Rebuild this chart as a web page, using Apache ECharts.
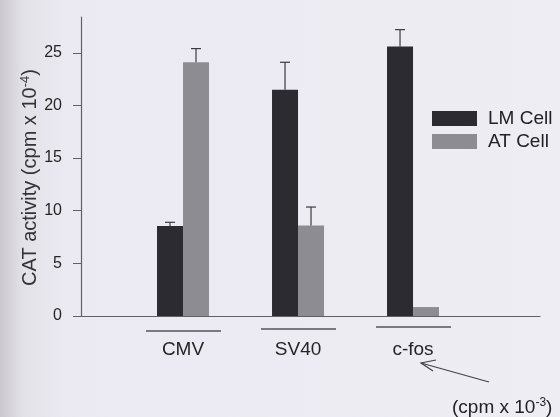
<!DOCTYPE html>
<html>
<head>
<meta charset="utf-8">
<script src="https://cdn.jsdelivr.net/npm/echarts@6/dist/echarts.min.js"></script>
<style>
html,body{margin:0;padding:0;background:#ecebf2;}
#main{width:560px;height:417px;}
</style>
</head>
<body>
<div id="main"></div>
<script>
var categories = ['CMV', 'SV40', 'c-fos'];
var lmValues = [8.55, 21.5, 25.6];
var atValues = [24.1, 8.6, 0.85];
var lmErrors = [0.35, 2.6, 1.6];
var atErrors = [1.3, 1.75, 0];
var yTicks = [0, 5, 10, 15, 20, 25];
var seriesNames = ['LM Cell', 'AT Cell'];

var FONT = '"Liberation Sans", Arial, sans-serif';
var chart = echarts.init(document.getElementById('main'));

function pos(i) { return i + 1; }

function barData(vals) {
  return vals.map(function (v, i) { return [pos(i), v]; });
}
function errData(vals, errs) {
  return vals.map(function (v, i) { return [pos(i), v, v + errs[i]]; });
}
function errRender(offset) {
  return function (params, api) {
    var x = api.value(0), lo = api.value(1), hi = api.value(2);
    if (hi - lo <= 0) return null;
    var p1 = api.coord([x, lo]);
    var p2 = api.coord([x, hi]);
    var cx = p1[0] + offset;
    var st = { stroke: '#3a3a40', lineWidth: 1.2 };
    return {
      type: 'group',
      children: [
        { type: 'line', shape: { x1: cx, y1: p1[1], x2: cx, y2: p2[1] }, style: st },
        { type: 'line', shape: { x1: cx - 5, y1: p2[1], x2: cx + 5, y2: p2[1] }, style: st }
      ]
    };
  };
}

var option = {
  backgroundColor: {
    type: 'linear', x: 0, y: 0, x2: 1, y2: 0,
    colorStops: [
      { offset: 0, color: '#cbc9cf' },
      { offset: 0.04, color: '#e3e1e8' },
      { offset: 0.12, color: '#ebeaf2' },
      { offset: 1, color: '#eeedf4' }
    ]
  },
  animation: false,
  textStyle: { fontFamily: FONT },
  grid: { left: 81, top: 17, right: 20, bottom: 101 },
  legend: {
    orient: 'vertical',
    left: 432, top: 109,
    padding: 0,
    itemWidth: 45, itemHeight: 15, itemGap: 4,
    icon: 'rect',
    data: seriesNames,
    textStyle: { fontSize: 19, color: '#222', fontFamily: FONT, padding: [0, 0, 0, 6] }
  },
  xAxis: {
    type: 'value',
    min: 0.113, max: 4.104,
    splitLine: { show: false },
    axisLine: { show: true, lineStyle: { color: '#606066', width: 1.2 } },
    axisTick: { show: false },
    axisLabel: {
      customValues: [1, 2, 3],
      margin: 24,
      fontSize: 19,
      color: '#252525',
      fontFamily: FONT,
      formatter: function (v) { return categories[Math.round(v) - 1] || ''; }
    }
  },
  yAxis: {
    type: 'value',
    min: 0, max: 28.4,
    splitLine: { show: false },
    axisLine: { show: true, lineStyle: { color: '#606066', width: 1.2 } },
    axisTick: { show: true, length: 8, customValues: yTicks, lineStyle: { color: '#606066' } },
    axisLabel: { customValues: yTicks, fontSize: 16, color: '#252525', margin: 19, fontFamily: FONT },
    name: '{a|CAT activity (cpm x 10}{s|-4}{a|)}',
    nameLocation: 'middle',
    nameGap: 40,
    nameMoveOverlap: false,
    nameTextStyle: {
      padding: [0, 22, 0, 0],
      rich: {
        a: { fontSize: 20, color: '#333', fontFamily: FONT },
        s: { fontSize: 13, color: '#333', fontFamily: FONT, verticalAlign: 'top', padding: [0, 0, 9, 0] }
      }
    }
  },
  series: [
    {
      name: seriesNames[0], type: 'bar', barWidth: 26, barGap: '0%',
      data: barData(lmValues),
      itemStyle: { color: '#2b2b31' }
    },
    {
      name: seriesNames[1], type: 'bar', barWidth: 26, barGap: '0%',
      data: barData(atValues),
      itemStyle: { color: '#8d8c93' }
    },
    {
      type: 'custom', renderItem: errRender(-13), data: errData(lmValues, lmErrors), z: 5, silent: true
    },
    {
      type: 'custom', renderItem: errRender(13), data: errData(atValues, atErrors), z: 5, silent: true
    }
  ]
};
chart.setOption(option);

// underlines beneath the category labels and the annotation arrow
var deco = [];
categories.forEach(function (c, i) {
  var px = chart.convertToPixel({ gridIndex: 0 }, [pos(i), 0]);
  deco.push({
    type: 'line',
    shape: { x1: px[0] - 37, y1: 331 - i * 2, x2: px[0] + 38, y2: 331 - i * 2 },
    style: { stroke: '#55555b', lineWidth: 1.3 }
  });
});
deco.push({
  type: 'line', shape: { x1: 489, y1: 382, x2: 421, y2: 363 },
  style: { stroke: '#444', lineWidth: 1.2 }
});
deco.push({
  type: 'polyline', shape: { points: [[436, 360], [421, 363], [433, 371]] },
  style: { stroke: '#444', lineWidth: 1.2, fill: null }
});
deco.push({
  type: 'text', left: 452, top: 397,
  style: {
    text: '{a|(cpm x 10}{s|-3}{a|)}',
    rich: {
      a: { fontSize: 19, fill: '#222', fontFamily: FONT },
      s: { fontSize: 12, fill: '#222', fontFamily: FONT, verticalAlign: 'top', padding: [0, 0, 9, 0] }
    }
  }
});
chart.setOption({ graphic: deco });
</script>
</body>
</html>
